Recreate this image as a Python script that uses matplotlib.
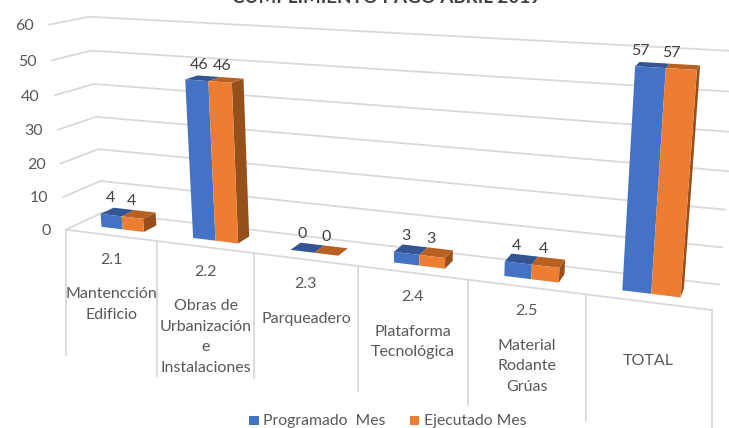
import numpy as np
import matplotlib
matplotlib.use("Agg")
import matplotlib.pyplot as plt

plt.rcParams['font.family'] = ['Lato', 'DejaVu Sans']

# datos
codigos = ["2.1", "2.2", "2.3", "2.4", "2.5", ""]
categorias = [["Mantencción", "Edificio"],
              ["Obras de", "Urbanización", "e", "Instalaciones"],
              ["Parqueadero"],
              ["Plataforma", "Tecnológica"],
              ["Material", "Rodante", "Grúas"],
              ["TOTAL"]]
programado = [4, 46, 0, 3, 4, 57]
ejecutado = [4, 46, 0, 3, 4, 57]
yticks = [0, 10, 20, 30, 40, 50, 60]
titulo = "CUMPLIMIENTO PAGO ABRIL 2019"
serie1 = "Programado  Mes"
serie2 = "Ejecutado Mes"

GRIS = "#D9D9D9"
TEXTO = "#595959"
AZUL, AZUL_TOP = "#4472C4", "#335593"
NARANJA, NARANJA_TOP, NARANJA_LADO = "#ED7D31", "#B85F22", "#96501C"
FS = 11.5

# calibracion de la perspectiva: (categoria, fondo, valor) -> pixel
ancla_3d = [(0, 0, 0), (1, 0, 0), (2, 0, 0), (3, 0, 0), (4, 0, 0), (5, 0, 0), (6, 0, 0),
            (0, 1, 0), (6, 1, 0), (0, 1, 60), (6, 1, 60), (0, 0, 60), (0, 0, 30),
            (0, 1, 30), (6, 1, 30)]
ancla_px = [(66, 230), (157, 241), (254, 253), (357, 266), (468, 280), (586, 294), (712, 309),
            (103, 212), (719, 285), (89, 16), (738, 51), (49, 25), (58, 130),
            (96, 117), (728.5, 172)]


def ajustar(a3, a2):
    A = []
    b = []
    for (u, d, z), (x, y) in zip(a3, a2):
        A.append([u, d, z, 1, 0, 0, 0, 0, -x * u, -x * d, -x * z])
        A.append([0, 0, 0, 0, u, d, z, 1, -y * u, -y * d, -y * z])
        b += [x, y]
    p = np.linalg.lstsq(np.array(A, float), np.array(b, float), rcond=None)[0]
    return np.append(p, 1).reshape(3, 4)


P = ajustar(ancla_3d, ancla_px)


def pr(u, d, z):
    x, y, w = P @ np.array([u, d, z, 1.0])
    return x / w, y / w


fig = plt.figure(figsize=(7.29, 4.28), dpi=100)
ax = fig.add_axes([0, 0, 1, 1])
ax.set_xlim(0, 729)
ax.set_ylim(428, 0)
ax.axis("off")

# rejilla
for z in yticks:
    a, b, c = pr(0, 0, z), pr(0, 1, z), pr(6, 1, z)
    ax.plot([a[0], b[0], c[0]], [a[1], b[1], c[1]], color=GRIS, lw=1.3, zorder=1)
    ax.text(a[0] - 15, a[1] + 1.5, str(z), ha="right", va="center", fontsize=FS, color=TEXTO)

# eje de categorias
tick_fin = [355, 376, 378, 391, 405, 420, 428]
a, b = pr(0, 0, 0), pr(6, 0, 0)
ax.plot([a[0], b[0]], [a[1], b[1]], color=GRIS, lw=1.3, zorder=1)
for i, fin in enumerate(tick_fin):
    a = pr(i, 0, 0)
    ax.plot([a[0], a[0]], [a[1], fin], color=GRIS, lw=1.3, zorder=1)

for i in range(6):
    a, b = pr(i, 0, 0), pr(i + 1, 0, 0)
    xm, ym = (a[0] + b[0]) / 2, (a[1] + b[1]) / 2
    if codigos[i]:
        ax.text(xm, ym + 24.5, codigos[i], ha="center", va="center", fontsize=FS, color=TEXTO)
    for j, linea in enumerate(categorias[i]):
        ax.text(xm, ym + 59 + j * 20.5, linea, ha="center", va="center", fontsize=FS, color=TEXTO)

# barras
D0, D1 = 0.32, 0.68
W = 0.235
etiqueta_dx = [-7, -4, -5, -5, -5, -12]
for i in range(6):
    for s, vals in enumerate([programado, ejecutado]):
        v = vals[i]
        u0 = i + 0.5 - W + s * W
        u1 = u0 + W
        frente, top = (AZUL, AZUL_TOP) if s == 0 else (NARANJA, NARANJA_TOP)
        if s == 1:
            ax.fill(*zip(pr(u1, D0, 0), pr(u1, D1, 0), pr(u1, D1, v), pr(u1, D0, v)),
                    color=NARANJA_LADO, lw=0, zorder=3)
        ax.fill(*zip(pr(u0, D0, v), pr(u1, D0, v), pr(u1, D1, v), pr(u0, D1, v)),
                color=top, lw=0, zorder=4)
        if v > 0:
            ax.fill(*zip(pr(u0, D0, 0), pr(u1, D0, 0), pr(u1, D0, v), pr(u0, D0, v)),
                    color=frente, lw=0, zorder=5)
        x, y = pr((u0 + u1) / 2, (D0 + D1) / 2, v)
        ax.text(x + etiqueta_dx[i], y - 13.5, str(v), ha="center", va="center", fontsize=FS,
                color="#404040", zorder=6)

# titulo cortado por arriba
ax.text(386.5, 3, titulo, ha="center", va="baseline", fontsize=13.5, fontweight="bold", color="#404040")

# leyenda
ax.fill([249, 259, 259, 249], [416, 416, 425, 425], color=AZUL, lw=0)
ax.text(263, 421, serie1, ha="left", va="center", fontsize=11.3, color=TEXTO)
ax.fill([410, 419, 419, 410], [416, 416, 425, 425], color=NARANJA, lw=0)
ax.text(424, 421, serie2, ha="left", va="center", fontsize=11.3, color=TEXTO)

fig.savefig("out.png", dpi=100)
